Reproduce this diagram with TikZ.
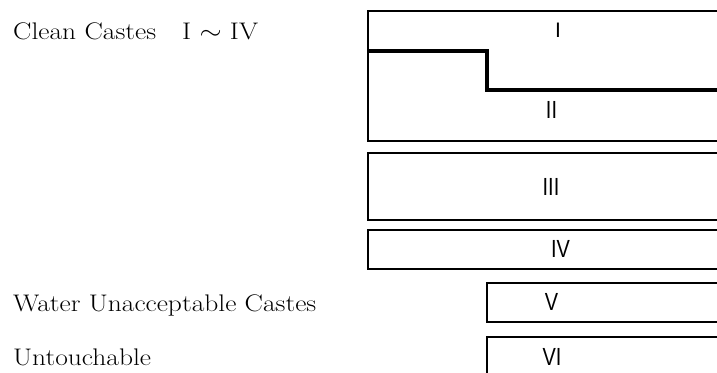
\documentclass[tikz,border=0pt]{standalone}
\usepackage{fontspec}
\usepackage{graphicx}
\newfontfamily\labsf{Liberation Sans}
\newcommand{\tallnum}[1]{\scalebox{0.95}[1.18]{#1}}
\newcommand{\widetxt}[1]{\scalebox{1.145}[1]{#1}}
\begin{document}
\begin{tikzpicture}[x=1pt,y=-1pt,
  box/.style={draw=black,line width=2.8pt},
  stepline/.style={draw=black,line width=3.8pt},
  rn/.style={font=\labsf\fontsize{21}{21}\selectfont,inner sep=0pt,anchor=center},
  lt/.style={font=\fontsize{24}{24}\selectfont,inner sep=0pt,anchor=base west}]
\useasboundingbox (0,0) rectangle (717,372);
\clip (0,0) rectangle (717,372);
\draw[box] (368,11) rectangle (730,141);
\draw[stepline] (368,51) -- (487,51) -- (487,90) -- (730,90);
\draw[box] (368,153) rectangle (730,220);
\draw[box] (368,230) rectangle (730,269);
\draw[box] (487,283) rectangle (730,322);
\draw[box] (487,337) rectangle (730,395);
\node[rn] (r1) at (558,30) {I};
\node[rn] (r2) at (551.5,110) {\tallnum{II}};
\node[rn] (r3) at (551,186.5) {\tallnum{III}};
\node[rn] (r4) at (560.5,249) {\tallnum{IV}};
\node[rn] (r5) at (551.5,302) {\tallnum{V}};
\node[rn] (r6) at (552,357) {\tallnum{VI}};
\node[lt] (clean) at (13,39.5) {\widetxt{Clean Castes\hspace{0.95em}I $\sim$ IV}};
\node[lt] (water) at (13,311.7) {\widetxt{Water Unacceptable Castes}};
\node[lt] (untouch) at (13,365) {\widetxt{Untouchable}};
\end{tikzpicture}
\end{document}
